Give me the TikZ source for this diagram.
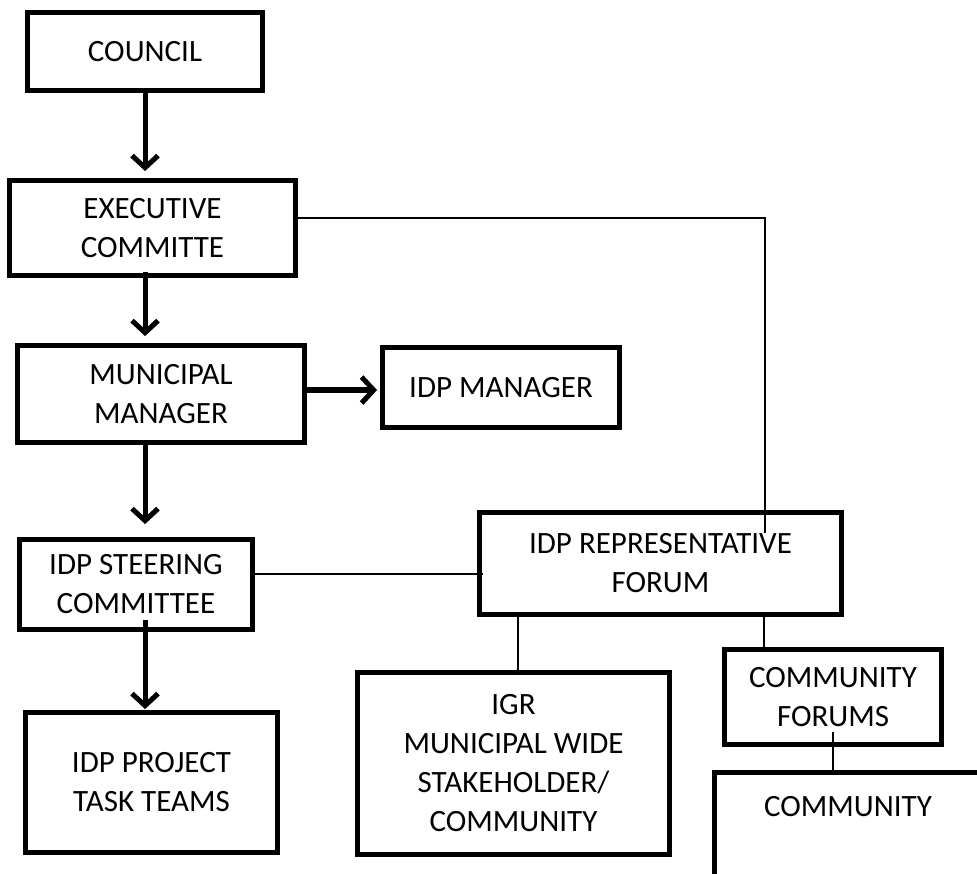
\documentclass[tikz,border=0pt]{standalone}
\usepackage{fontspec}
\setmainfont{Carlito}
\usetikzlibrary{arrows.meta,calc}
\begin{document}
\begin{tikzpicture}[x=1pt,y=-1pt,
  box/.style={draw=black, line width=5pt, rectangle, inner sep=0pt, align=center,
    font=\fontsize{31pt}{39pt}\selectfont},
  lbl/.style={inner sep=0pt, align=center, font=\fontsize{31pt}{39pt}\selectfont},
  arr/.style={line width=5pt, -{Straight Barb[length=12pt,width=26pt,line width=5pt]},
    preaction={draw=black!35, transform canvas={xshift=1.5pt,yshift=-2pt}}},
  thinl/.style={line width=1.5pt}]
\useasboundingbox (0,0) rectangle (977,874);
\fill[white] (0,0) rectangle (977,874);
% boxes
\node[box, minimum width=235pt, minimum height=78pt] (council) at (145,51.5) {COUNCIL};
\node[box, minimum width=286pt, minimum height=95pt] (exec) at (152.5,228) {EXECUTIVE\\COMMITTE};
\node[box, minimum width=287pt, minimum height=97pt] (mm) at (161,394) {MUNICIPAL\\MANAGER};
\node[box, minimum width=237pt, minimum height=80pt] (idpm) at (501,387.5) {IDP MANAGER};
\node[box, minimum width=233pt, minimum height=90pt] (steer) at (136,584.5) {IDP STEERING\\COMMITTEE};
\node[box, minimum width=252pt, minimum height=140pt] (task) at (151.5,782.5) {IDP PROJECT\\TASK TEAMS};
\node[box, minimum width=362pt, minimum height=102pt] (rep) at (660.5,563.5) {IDP REPRESENTATIVE\\FORUM};
\node[box, minimum width=312pt, minimum height=182pt] (igr) at (513.5,763.5) {IGR\\MUNICIPAL WIDE\\STAKEHOLDER/\\COMMUNITY};
\node[box, minimum width=217pt, minimum height=95pt] (cf) at (833,697) {COMMUNITY\\FORUMS};
% partially visible community box
\node[lbl] (community) at (848,807) {COMMUNITY};
\draw[line width=5pt] (990,772.5) -- (714.5,772.5) -- (714.5,890);
% helper coordinates
\coordinate (ax) at (145,0);
\coordinate (repin) at (765,533);
\coordinate (steerin) at (483,574);
\coordinate (c1) at (518,0);
\coordinate (c2) at (764,0);
\coordinate (cfin) at (833,732);
\coordinate (commtop) at (833,772);
% arrows
\draw[arr] (council.south -| ax) -- ([yshift=7pt]exec.north -| ax);
\draw[arr] ([yshift=6pt]exec.south -| ax) -- ([yshift=7pt]mm.north -| ax);
\draw[arr] (mm.south -| ax) -- ([yshift=13pt]steer.north -| ax);
\draw[arr] ([yshift=12pt]steer.south -| ax) -- ([yshift=1pt]task.north -| ax);
\draw[arr] ([yshift=4pt]mm.east) -- ([yshift=-2.5pt,xshift=-3pt]idpm.west);
% thin connectors
\draw[thinl] ([yshift=10pt]exec.east) -| (repin);
\draw[thinl] ([yshift=10.5pt]steer.east) -- (steerin);
\draw[thinl] (rep.south -| c1) -- (igr.north -| c1);
\draw[thinl] (rep.south -| c2) -- (cf.north -| c2);
\draw[thinl] (cfin) -- (commtop);
\end{tikzpicture}
\end{document}
